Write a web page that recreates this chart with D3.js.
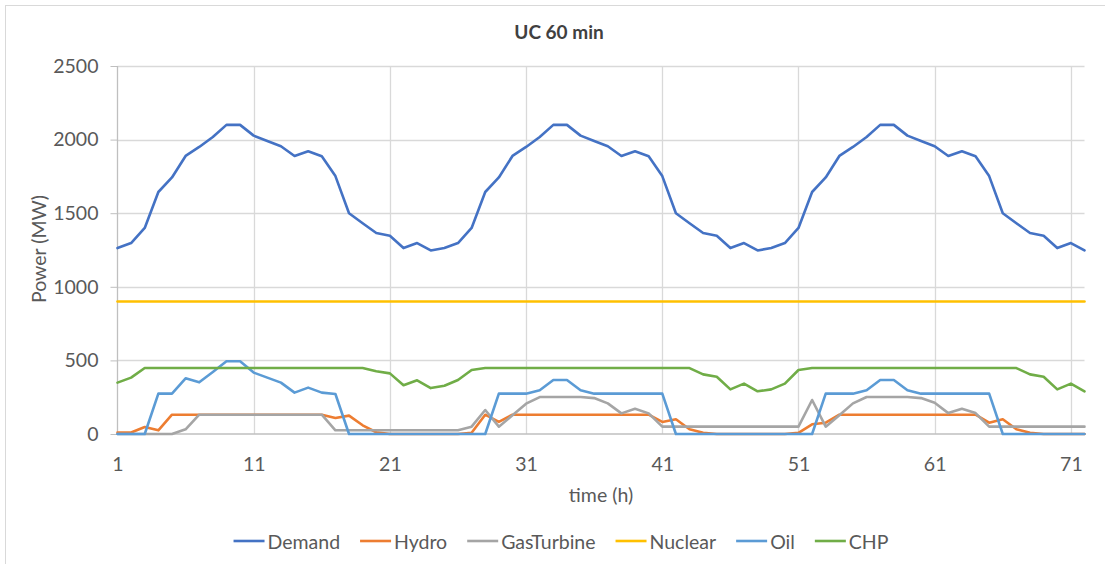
<!DOCTYPE html>
<html>
<head>
<meta charset="utf-8">
<script src="https://cdn.jsdelivr.net/npm/d3@7"></script>
<style>
  html, body { margin: 0; padding: 0; background: #fff; }
  svg { display: block; font-family: Lato, "Open Sans", sans-serif; }
</style>
</head>
<body>
<svg id="chart" width="1105" height="564"></svg>
<script>
// Hourly dispatch over three days (t = 1..72)
const hours = d3.range(1, 73);

const demand = [
  1263,1297,1400,1644,1743,1889,1950,2018,2100,2100,2027,1991,1955,1889,1921,1887,1752,1500,1432,1365,1347,1263,1297,1247,
  1263,1297,1400,1644,1743,1889,1950,2018,2100,2100,2027,1991,1955,1889,1921,1887,1752,1500,1432,1365,1347,1263,1297,1247,
  1263,1297,1400,1644,1743,1889,1950,2018,2100,2100,2027,1991,1955,1889,1921,1887,1752,1500,1432,1365,1347,1263,1297,1247
];
const hydro = [
  10,10,48,25,131,131,131,131,131,131,131,131,131,131,131,131,109,125,59,12,0,0,0,0,
  0,0,8,131,82,131,131,131,131,131,131,131,131,131,131,131,82,100,32,9,0,0,0,0,
  0,0,8,66,77,131,131,131,131,131,131,131,131,131,131,131,77,100,32,9,0,0,0,0
];
const gasTurbine = [
  0,0,0,0,0,32,131,131,131,131,131,131,131,131,131,131,25,25,25,25,25,25,25,25,
  25,25,50,163,50,127,206,251,251,251,251,244,208,140,172,140,50,50,50,50,50,50,50,50,
  50,50,50,231,50,127,208,251,251,251,251,244,212,142,172,142,50,50,50,50,50,50,50,50
];
const nuclear = hours.map(() => 900);
const oil = [
  0,0,0,274,274,378,351,421,494,494,417,383,349,281,315,281,272,0,0,0,0,0,0,0,
  0,0,0,0,274,274,274,297,367,367,297,274,274,274,274,274,274,0,0,0,0,0,0,0,
  0,0,0,0,274,274,274,297,367,367,297,274,274,274,274,274,274,0,0,0,0,0,0,0
];
const chp = [
  349,383,448,448,448,448,448,448,448,448,448,448,448,448,448,448,448,448,448,426,412,331,365,312,
  328,367,435,448,448,448,448,448,448,448,448,448,448,448,448,448,448,448,448,405,389,303,342,290,
  303,342,435,448,448,448,448,448,448,448,448,448,448,448,448,448,448,448,448,405,389,303,342,290
];

const seriesNames = ["Demand", "Hydro", "GasTurbine", "Nuclear", "Oil", "CHP"];
const seriesValues = [demand, hydro, gasTurbine, nuclear, oil, chp];
const seriesColors = ["#4472C4", "#ED7D31", "#A5A5A5", "#FFC000", "#5B9BD5", "#70AD47"];

const yTicks = [0, 500, 1000, 1500, 2000, 2500];
const xTicks = [1, 11, 21, 31, 41, 51, 61, 71];

const title = "UC 60 min";
const xTitle = "time (h)";
const yTitle = "Power (MW)";

// ---- layout ----
const svg = d3.select("#chart");
const plot = { left: 117.5, right: 1084.5, top: 66, bottom: 434 };
const textColor = "#595959";
const fontSize = 19.5;

const x = d3.scaleLinear().domain([1, 72]).range([plot.left, plot.right]);
const y = d3.scaleLinear().domain([0, 2500]).range([plot.bottom, plot.top]);

// chart frame
svg.append("rect")
  .attr("x", 5.5).attr("y", 5.5)
  .attr("width", 1200).attr("height", 700)
  .attr("fill", "#fff").attr("stroke", "#d9d9d9").attr("stroke-width", 1);

// title
svg.append("text")
  .attr("x", 559).attr("y", 31)
  .attr("text-anchor", "middle").attr("dominant-baseline", "central")
  .attr("font-size", 19).attr("font-weight", "bold").attr("fill", "#404040")
  .text(title);

// horizontal gridlines + y axis ticks
const yAxis = d3.axisLeft(y).tickValues(yTicks).tickSize(7).tickPadding(12).tickFormat(d3.format("d"));
const gy = svg.append("g").attr("transform", `translate(${plot.left},0)`).call(yAxis);
gy.select(".domain").remove();
gy.selectAll(".tick line").attr("stroke", "#bfbfbf");
gy.selectAll(".tick text").attr("fill", textColor).attr("font-size", fontSize).attr("font-family", "Lato, sans-serif");

svg.append("g").selectAll("line").data(yTicks.filter(d => d > 0)).join("line")
  .attr("x1", plot.left).attr("x2", plot.right)
  .attr("y1", d => Math.round(y(d)) + 0.5).attr("y2", d => Math.round(y(d)) + 0.5)
  .attr("stroke", "#d9d9d9").attr("stroke-width", 1.3);

// vertical gridlines + x axis labels
const xAxis = d3.axisBottom(x).tickValues(xTicks).tickSize(0).tickPadding(23).tickFormat(d3.format("d"));
const gx = svg.append("g").attr("transform", `translate(0,${plot.bottom})`).call(xAxis);
gx.select(".domain").remove();
gx.selectAll(".tick text").attr("fill", textColor).attr("font-size", fontSize).attr("font-family", "Lato, sans-serif");

svg.append("g").selectAll("line").data(xTicks.slice(1)).join("line")
  .attr("x1", d => Math.round(x(d)) + 0.5).attr("x2", d => Math.round(x(d)) + 0.5)
  .attr("y1", plot.top).attr("y2", plot.bottom)
  .attr("stroke", "#d9d9d9").attr("stroke-width", 1.3);

// axis lines
svg.append("line")
  .attr("x1", plot.left).attr("x2", plot.left).attr("y1", plot.top).attr("y2", plot.bottom)
  .attr("stroke", "#bfbfbf").attr("stroke-width", 1.3);
svg.append("line")
  .attr("x1", plot.left).attr("x2", plot.right).attr("y1", plot.bottom).attr("y2", plot.bottom)
  .attr("stroke", "#bfbfbf").attr("stroke-width", 1.3);

// axis titles
svg.append("text")
  .attr("x", 601).attr("y", 494)
  .attr("text-anchor", "middle").attr("dominant-baseline", "central")
  .attr("font-size", fontSize).attr("fill", textColor)
  .text(xTitle);
svg.append("text")
  .attr("transform", "translate(38,249) rotate(-90)")
  .attr("text-anchor", "middle").attr("dominant-baseline", "central")
  .attr("font-size", fontSize).attr("fill", textColor)
  .text(yTitle);

// series lines
const line = d3.line().x((d, i) => x(hours[i])).y(d => y(d));
svg.append("g").selectAll("path").data(seriesValues).join("path")
  .attr("d", d => line(d))
  .attr("fill", "none")
  .attr("stroke", (d, i) => seriesColors[i])
  .attr("stroke-width", 2.6)
  .attr("stroke-linejoin", "round")
  .attr("stroke-linecap", "round");

// legend
const legend = svg.append("g");
const items = legend.selectAll("g").data(seriesNames).join("g");
items.append("line")
  .attr("x1", 0).attr("x2", 31).attr("y1", 0).attr("y2", 0)
  .attr("stroke", (d, i) => seriesColors[i]).attr("stroke-width", 2.6);
items.append("text")
  .attr("x", 34).attr("y", 0).attr("dominant-baseline", "central")
  .attr("font-size", fontSize).attr("fill", textColor)
  .text(d => d);
let cursor = 0;
const offsets = [];
items.each(function () {
  offsets.push(cursor);
  const w = 34 + d3.select(this).select("text").node().getComputedTextLength();
  cursor += w + 20;
});
const totalW = cursor - 20;
const legendStart = 561 - totalW / 2;
items.attr("transform", (d, i) => `translate(${legendStart + offsets[i]},541)`);
</script>
</body>
</html>
